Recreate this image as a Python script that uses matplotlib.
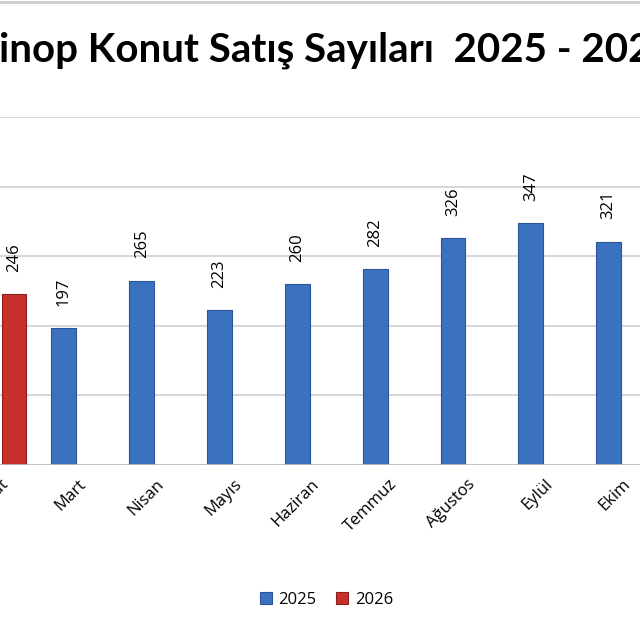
import numpy as np
import matplotlib.pyplot as plt

# görünen aylar (grafik kırpılmış)
months = ['Şubat', 'Mart', 'Nisan', 'Mayıs', 'Haziran', 'Temmuz', 'Ağustos', 'Eylül', 'Ekim']
sales_2025 = [np.nan, 197, 265, 223, 260, 282, 326, 347, 321]
sales_2026 = [246, np.nan, np.nan, np.nan, np.nan, np.nan, np.nan, np.nan, np.nan]

plt.rcParams['font.family'] = ['Lato', 'DejaVu Sans']

fig = plt.figure(figsize=(6.4, 6.4), dpi=100)
ax = fig.add_axes([0, 175 / 640, 1, 348 / 640])

x = np.arange(len(months))
w = 0.32
off = 0.18
b1 = ax.bar(x - off, sales_2025, w, color='#3B72C0', edgecolor='#2A5699', linewidth=0.8, label='2025')
b2 = ax.bar(x + off, sales_2026, w, color='#C8302C', edgecolor='#8E1F1C', linewidth=0.8, label='2026')

for bars, vals in ((b1, sales_2025), (b2, sales_2026)):
    for r, v in zip(bars, vals):
        if np.isnan(v):
            continue
        ax.annotate(f'{int(v)}', (r.get_x() + r.get_width() / 2, v), xytext=(0, 16),
                    textcoords='offset points', rotation=90, ha='center', va='bottom',
                    fontsize=12, family=['Open Sans', 'DejaVu Sans'])

ax.set_xlim(26 / 81, 666 / 81)
ax.set_ylim(0, 500)
ax.set_yticks(range(0, 501, 100))
ax.yaxis.grid(True, color='#D0D0D0', linewidth=1.2)
ax.set_axisbelow(True)
ax.tick_params(axis='y', length=0, labelleft=False)
ax.tick_params(axis='x', length=0, pad=8)
ax.set_xticks(x)
ax.set_xticklabels(months, rotation=45, ha='right', rotation_mode='anchor', fontsize=12,
                   family=['Open Sans', 'DejaVu Sans'])
for s in ax.spines.values():
    s.set_visible(False)
ax.axhline(0, color='#C0C0C0', linewidth=1.2)

fig.text(0.51, 1 - 50 / 640, 'Sinop Konut Satış Sayıları  2025 - 2026', ha='center', va='center',
         fontsize=29, fontweight='bold')
fig.add_artist(plt.Line2D([0, 1], [1 - 2 / 640, 1 - 2 / 640], color='#CCCCCC', linewidth=2))

fig.legend(loc='center', bbox_to_anchor=(0.51, 1 - 600 / 640), ncol=2, frameon=False,
           handlelength=0.7, handleheight=0.7, columnspacing=1.2, handletextpad=0.4,
           prop={'family': ['Open Sans', 'DejaVu Sans'], 'size': 12})

fig.savefig('out.png', dpi=100)
